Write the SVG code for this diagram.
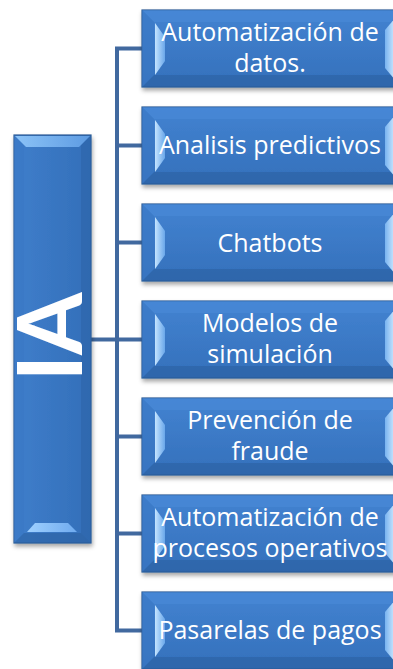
<svg xmlns="http://www.w3.org/2000/svg" width="393" height="669" viewBox="0 0 393 669">
  <defs>
    <linearGradient id="gMain" x1="0" y1="0" x2="0" y2="1">
      <stop offset="0" stop-color="#4383d1"/>
      <stop offset="1" stop-color="#3470bb"/>
    </linearGradient>
    <linearGradient id="gMainV" x1="0" y1="0" x2="1" y2="0">
      <stop offset="0" stop-color="#3f7ecb"/>
      <stop offset="1" stop-color="#336fb9"/>
    </linearGradient>
    <linearGradient id="gStripL" x1="0" y1="0" x2="1" y2="0">
      <stop offset="0" stop-color="#c4e4ff"/>
      <stop offset="1" stop-color="#6aa7ea"/>
    </linearGradient>
    <linearGradient id="gStripR" x1="1" y1="0" x2="0" y2="0">
      <stop offset="0" stop-color="#d0eaff"/>
      <stop offset="1" stop-color="#78b3f0"/>
    </linearGradient>
    <linearGradient id="gStripT" x1="0" y1="0" x2="1" y2="0">
      <stop offset="0" stop-color="#8cc3f7"/>
      <stop offset="1" stop-color="#5d9be2"/>
    </linearGradient>
    <linearGradient id="gStripB" x1="0" y1="0" x2="1" y2="0">
      <stop offset="0" stop-color="#9fd0ff"/>
      <stop offset="1" stop-color="#6fabef"/>
    </linearGradient>
    <filter id="sh" x="-10%" y="-10%" width="130%" height="130%">
      <feDropShadow dx="1" dy="3" stdDeviation="2" flood-color="#000" flood-opacity="0.35"/>
    </filter>
  </defs>
  <style>
    .frame{fill:url(#gMain);stroke:#2b5b96;stroke-width:1.2}
    .bt{fill:#4a8bd8;opacity:.55}
    .bb{fill:#2a5e9f;opacity:.55}
    .bl{fill:#3b78c4;opacity:.6}
    .br{fill:#2c62a6;opacity:.5}
    .lbl{font-family:"Open Sans",Lato,"Liberation Sans",sans-serif;font-size:25px;fill:#fff;text-anchor:middle}
    .big{font-family:Lato,"Liberation Sans",sans-serif;font-weight:bold;font-size:90px;fill:#fff;text-anchor:middle}
    .conn{stroke:#41699f;stroke-width:4;fill:none}
  </style>

  <g id="connectors">
    <path class="conn" d="M117 48.5V630.5"/>
    <path class="conn" d="M91 339.5H117"/>
    <path class="conn" d="M115 48.5H143M115 145.5H143M115 242.5H143M115 339.5H143M115 436.5H143M115 533.5H143M115 630.5H143"/>
  </g>

  <g id="ia">
    <g filter="url(#sh)">
      <rect class="frame" x="14" y="135" width="77" height="408" style="fill:url(#gMainV)"/>
    </g>
    <polygon class="bl" points="14,135 24,145 24,533 14,543"/>
    <polygon class="br" points="91,135 81,145 81,533 91,543"/>
    <polygon class="bb" points="14,543 24,533 81,533 91,543"/>
    <polygon fill="url(#gStripT)" points="15,136 90,136 79,147 26,147"/>
    <polygon fill="url(#gStripB)" points="35,523 68,523 77,532 27,532"/>
    <text class="big" transform="translate(82 337) rotate(-90)">IA</text>
  </g>

  <g id="n1" transform="translate(142 10)">
    <g filter="url(#sh)"><rect class="frame" width="265" height="77"/></g>
    <polygon class="bt" points="0,0 265,0 253,12 12,12"/>
    <polygon class="bb" points="0,77 12,65 253,65 265,77"/>
    <polygon class="bl" points="0,0 12,12 12,65 0,77"/>
    <polygon fill="url(#gStripL)" points="13,13 23,27 23,51 13,65"/>
    <polygon fill="url(#gStripR)" points="253,8 243,20 243,58 253,70"/>
    <text class="lbl" x="128" y="31">Automatización de</text>
    <text class="lbl" x="128" y="62">datos.</text>
  </g>

  <g id="n2" transform="translate(142 107)">
    <g filter="url(#sh)"><rect class="frame" width="265" height="77"/></g>
    <polygon class="bt" points="0,0 265,0 253,12 12,12"/>
    <polygon class="bb" points="0,77 12,65 253,65 265,77"/>
    <polygon class="bl" points="0,0 12,12 12,65 0,77"/>
    <polygon fill="url(#gStripL)" points="13,13 23,27 23,51 13,65"/>
    <polygon fill="url(#gStripR)" points="253,8 243,20 243,58 253,70"/>
    <text class="lbl" x="128" y="47">Analisis predictivos</text>
  </g>

  <g id="n3" transform="translate(142 204)">
    <g filter="url(#sh)"><rect class="frame" width="265" height="77"/></g>
    <polygon class="bt" points="0,0 265,0 253,12 12,12"/>
    <polygon class="bb" points="0,77 12,65 253,65 265,77"/>
    <polygon class="bl" points="0,0 12,12 12,65 0,77"/>
    <polygon fill="url(#gStripL)" points="13,13 23,27 23,51 13,65"/>
    <polygon fill="url(#gStripR)" points="253,8 243,20 243,58 253,70"/>
    <text class="lbl" x="128" y="48">Chatbots</text>
  </g>

  <g id="n4" transform="translate(142 301)">
    <g filter="url(#sh)"><rect class="frame" width="265" height="77"/></g>
    <polygon class="bt" points="0,0 265,0 253,12 12,12"/>
    <polygon class="bb" points="0,77 12,65 253,65 265,77"/>
    <polygon class="bl" points="0,0 12,12 12,65 0,77"/>
    <polygon fill="url(#gStripL)" points="13,13 23,27 23,51 13,65"/>
    <polygon fill="url(#gStripR)" points="253,8 243,20 243,58 253,70"/>
    <text class="lbl" x="128" y="31">Modelos de</text>
    <text class="lbl" x="128" y="62">simulación</text>
  </g>

  <g id="n5" transform="translate(142 398)">
    <g filter="url(#sh)"><rect class="frame" width="265" height="77"/></g>
    <polygon class="bt" points="0,0 265,0 253,12 12,12"/>
    <polygon class="bb" points="0,77 12,65 253,65 265,77"/>
    <polygon class="bl" points="0,0 12,12 12,65 0,77"/>
    <polygon fill="url(#gStripL)" points="13,13 23,27 23,51 13,65"/>
    <polygon fill="url(#gStripR)" points="253,8 243,20 243,58 253,70"/>
    <text class="lbl" x="128" y="31">Prevención de</text>
    <text class="lbl" x="128" y="62">fraude</text>
  </g>

  <g id="n6" transform="translate(142 495)">
    <g filter="url(#sh)"><rect class="frame" width="265" height="77"/></g>
    <polygon class="bt" points="0,0 265,0 253,12 12,12"/>
    <polygon class="bb" points="0,77 12,65 253,65 265,77"/>
    <polygon class="bl" points="0,0 12,12 12,65 0,77"/>
    <polygon fill="url(#gStripL)" points="13,13 23,27 23,51 13,65"/>
    <polygon fill="url(#gStripR)" points="253,8 243,20 243,58 253,70"/>
    <text class="lbl" x="128" y="31">Automatización de</text>
    <text class="lbl" x="128" y="62">procesos operativos</text>
  </g>

  <g id="n7" transform="translate(142 592)">
    <g filter="url(#sh)"><rect class="frame" width="265" height="77"/></g>
    <polygon class="bt" points="0,0 265,0 253,12 12,12"/>
    <polygon class="bb" points="0,77 12,65 253,65 265,77"/>
    <polygon class="bl" points="0,0 12,12 12,65 0,77"/>
    <polygon fill="url(#gStripL)" points="13,13 23,27 23,51 13,65"/>
    <polygon fill="url(#gStripR)" points="253,8 243,20 243,58 253,70"/>
    <text class="lbl" x="128" y="47">Pasarelas de pagos</text>
  </g>
</svg>
